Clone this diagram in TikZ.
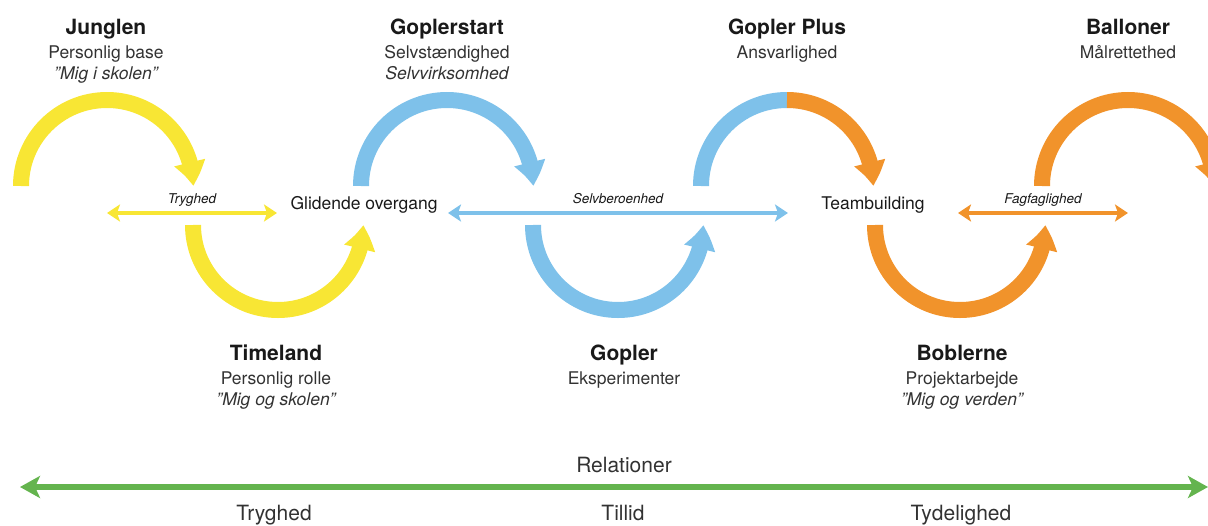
\documentclass[tikz,border=0pt]{standalone}
\usepackage{fontspec}
\setmainfont{TeX Gyre Heros}
\usetikzlibrary{arrows.meta,bending}
\definecolor{cyel}{RGB}{248,230,52}
\definecolor{cblu}{RGB}{126,193,234}
\definecolor{corg}{RGB}{241,147,43}
\definecolor{cgrn}{RGB}{100,180,78}
\definecolor{ctxt}{RGB}{25,25,25}
\definecolor{csub}{RGB}{50,50,50}
\begin{document}
\begin{tikzpicture}[x=1pt,y=-1pt,
  arcline/.style={line width=16pt},
  arctip/.style={-{Triangle[width=30pt,length=24pt,bend]}},
  midtip/.style={{Stealth[length=13pt,width=17pt,inset=3pt]}-{Stealth[length=13pt,width=17pt,inset=3pt]}},
  midline/.style={line width=4pt, midtip},
  title/.style={font=\fontsize{21}{21}\selectfont\bfseries, text=ctxt, anchor=base, inner sep=0pt},
  sub/.style={font=\fontsize{17.5}{17.5}\selectfont, text=csub, anchor=base, inner sep=0pt},
  subit/.style={font=\fontsize{17.5}{17.5}\selectfont\itshape, text=csub, anchor=base, inner sep=0pt},
  small/.style={font=\fontsize{13.5}{13.5}\selectfont\itshape, text=ctxt, anchor=base, inner sep=0pt},
  midlab/.style={font=\fontsize{17.5}{17.5}\selectfont, text=ctxt, anchor=base, inner sep=0pt},
  rel/.style={font=\fontsize{21}{21}\selectfont, text=csub, anchor=base, inner sep=0pt}
]
\useasboundingbox (0,0) rectangle (1208,525);
\clip (0,0) rectangle (1208,525);

% arc centres
\coordinate (t1) at (107,186);
\coordinate (t2) at (447,186);
\coordinate (t3) at (787,186);
\coordinate (t4) at (1128,186);
\coordinate (b1) at (278,225);
\coordinate (b2) at (618,225);
\coordinate (b3) at (960,225);

% top arcs
\draw[cyel, arcline, arctip] (t1) ++(-86,0) arc[start angle=180, end angle=360, radius=86];
\draw[cblu, arcline, arctip] (t2) ++(-86,0) arc[start angle=180, end angle=360, radius=86];
\draw[cblu, arcline] (t3) ++(-86,0) arc[start angle=180, end angle=270, radius=86];
\draw[corg, arcline, arctip] (t3) ++(0,-86) arc[start angle=270, end angle=360, radius=86];
\draw[corg, arcline, arctip] (t4) ++(-86,0) arc[start angle=180, end angle=360, radius=86];

% bottom arcs
\draw[cyel, arcline, arctip] (b1) ++(-85,0) arc[start angle=180, end angle=0, radius=85];
\draw[cblu, arcline, arctip] (b2) ++(-85,0) arc[start angle=180, end angle=0, radius=85];
\draw[corg, arcline, arctip] (b3) ++(-85,0) arc[start angle=180, end angle=0, radius=85];

% horizontal double arrows
\coordinate (ya) at (107,213); \coordinate (yb) at (277,213);
\coordinate (ba) at (448,213); \coordinate (bb) at (788,213);
\coordinate (oa) at (958,213); \coordinate (ob) at (1128,213);
\draw[cyel, midline] (ya) -- (yb);
\draw[cblu, midline] (ba) -- (bb);
\draw[corg, midline] (oa) -- (ob);

\node[small] (tryg1) at (192,203) {Tryghed};
\node[small] (selvb) at (618,203) {Selvberoenhed};
\node[small] (fagf) at (1043,203) {Fagfaglighed};
\node[midlab] (glid) at (364,209) {Glidende overgang};
\node[midlab] (team) at (873,209) {Teambuilding};

% top labels
\node[title] (jung) at (106,34) {Junglen};
\node[sub] (jung2) at (106,58) {Personlig base};
\node[subit] (jung3) at (106,79) {”Mig i skolen”};
\node[title] (gstart) at (447,34) {Goplerstart};
\node[sub] (gstart2) at (447,58) {Selvstændighed};
\node[subit] (gstart3) at (447,79) {Selvvirksomhed};
\node[title] (gplus) at (787,34) {Gopler Plus};
\node[sub] (gplus2) at (787,58) {Ansvarlighed};
\node[title] (ball) at (1128,34) {Balloner};
\node[sub] (ball2) at (1128,58) {Målrettethed};

% bottom labels
\node[title] (time) at (276,360) {Timeland};
\node[sub] (time2) at (276,384) {Personlig rolle};
\node[subit] (time3) at (276,405) {”Mig og skolen”};
\node[title] (gop) at (624,360) {Gopler};
\node[sub] (gop2) at (624,384) {Eksperimenter};
\node[title] (bob) at (962,360) {Boblerne};
\node[sub] (bob2) at (962,384) {Projektarbejde};
\node[subit] (bob3) at (962,405) {”Mig og verden”};

% relations axis
\coordinate (ga) at (20,487); \coordinate (gb) at (1208,487);
\draw[cgrn, line width=6pt, {Stealth[length=20pt,width=22pt,inset=5pt]}-{Stealth[length=20pt,width=22pt,inset=5pt]}] (ga) -- (gb);
\node[rel] (relat) at (624,472) {Relationer};
\node[rel] (tryg2) at (274,520) {Tryghed};
\node[rel] (tillid) at (623,520) {Tillid};
\node[rel] (tydel) at (961,520) {Tydelighed};
\end{tikzpicture}
\end{document}
